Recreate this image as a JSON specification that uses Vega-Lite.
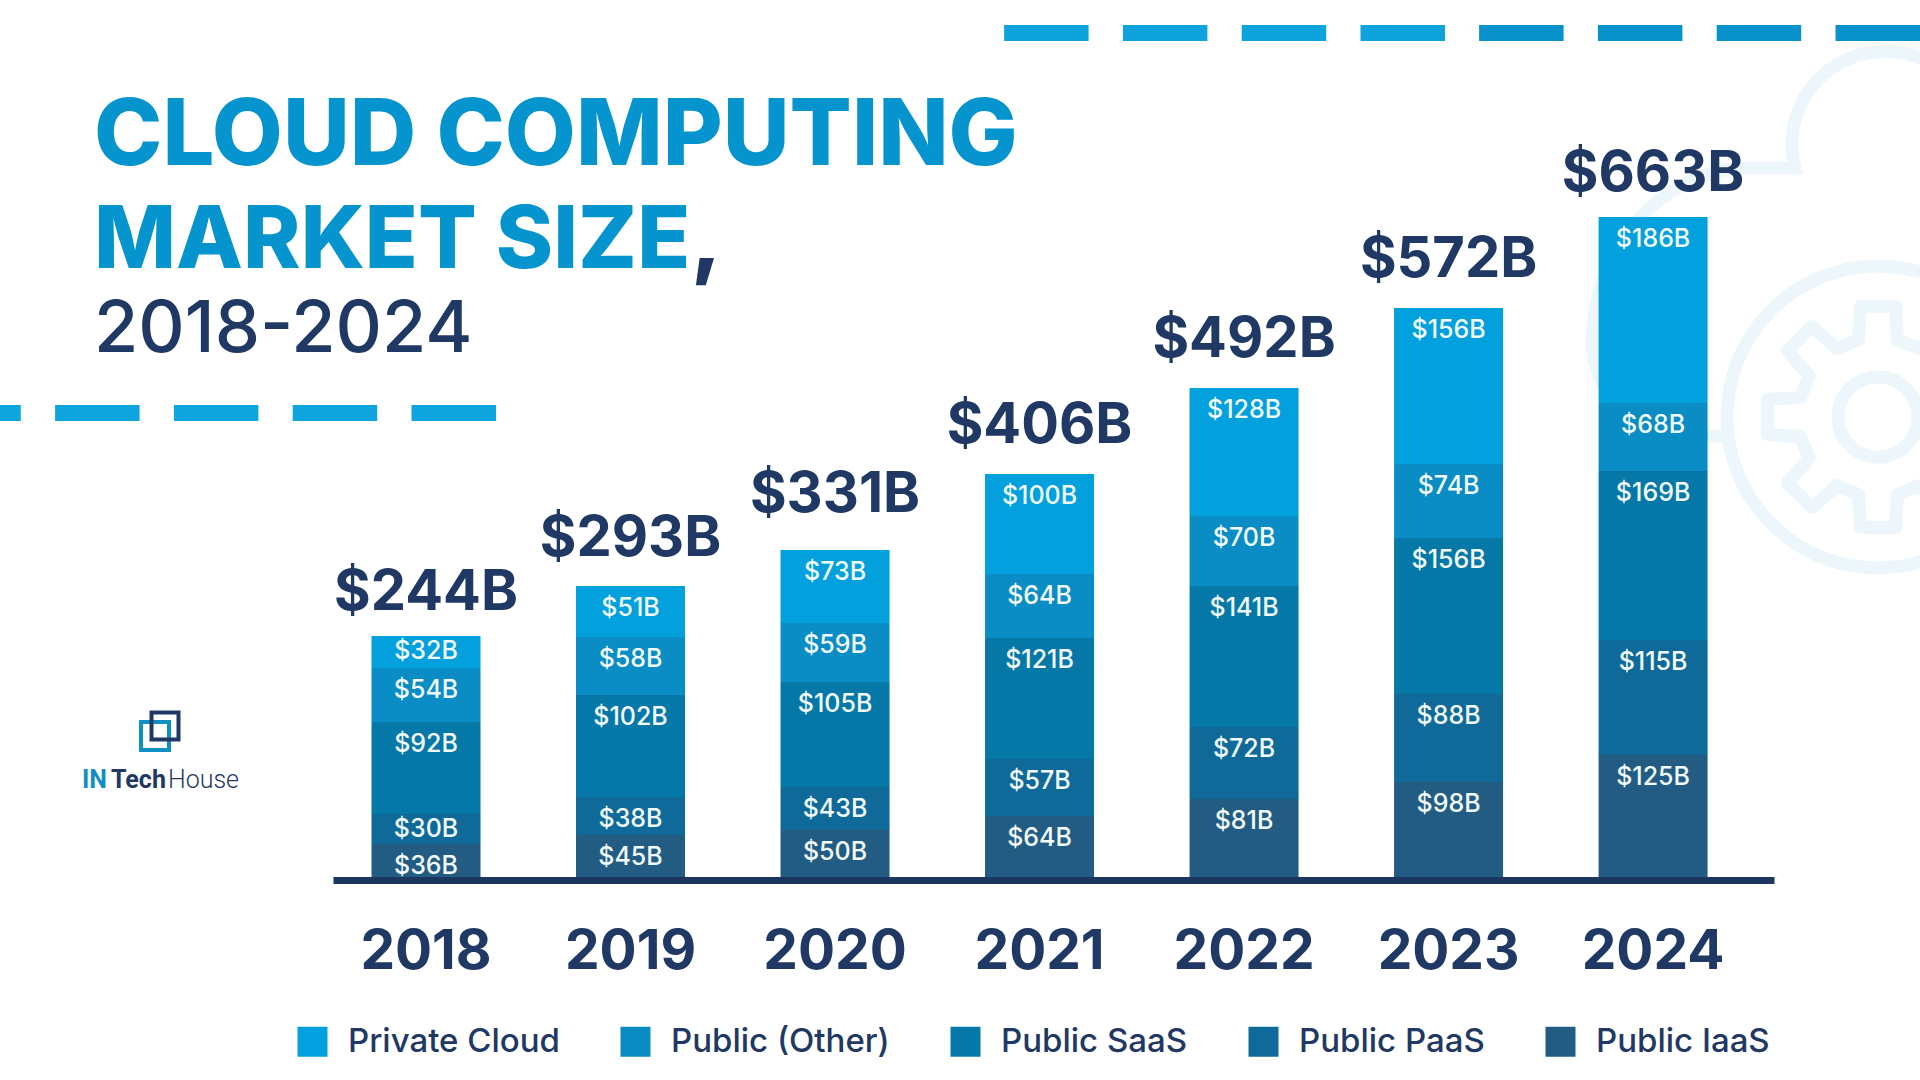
{
  "$schema": "https://vega.github.io/schema/vega-lite/v6.json",
  "background": "white",
  "autosize": {"type": "none"},
  "padding": {"left": 333, "top": 0, "right": 146, "bottom": 200},
  "width": 1441,
  "height": 880,
  "title": {
    "text": "CLOUD COMPUTING",
    "subtitle": "MARKET SIZE",
    "frame": "group",
    "anchor": "start",
    "align": "left",
    "dx": -239,
    "dy": 290,
    "font": "Inter",
    "fontSize": 92,
    "fontWeight": 800,
    "color": "#0594CE",
    "subtitleFont": "Inter",
    "subtitleFontSize": 87,
    "subtitleFontWeight": 800,
    "subtitleColor": "#0594CE",
    "subtitlePadding": 15
  },
  "datasets": {
    "segments": [
      {"year": "2018", "segment": "Private Cloud", "rank": 5, "value": 32, "label": "$32B"},
      {"year": "2018", "segment": "Public (Other)", "rank": 4, "value": 54, "label": "$54B"},
      {"year": "2018", "segment": "Public SaaS", "rank": 3, "value": 92, "label": "$92B"},
      {"year": "2018", "segment": "Public PaaS", "rank": 2, "value": 30, "label": "$30B"},
      {"year": "2018", "segment": "Public IaaS", "rank": 1, "value": 36, "label": "$36B"},
      {"year": "2019", "segment": "Private Cloud", "rank": 5, "value": 51, "label": "$51B"},
      {"year": "2019", "segment": "Public (Other)", "rank": 4, "value": 58, "label": "$58B"},
      {"year": "2019", "segment": "Public SaaS", "rank": 3, "value": 102, "label": "$102B"},
      {"year": "2019", "segment": "Public PaaS", "rank": 2, "value": 38, "label": "$38B"},
      {"year": "2019", "segment": "Public IaaS", "rank": 1, "value": 45, "label": "$45B"},
      {"year": "2020", "segment": "Private Cloud", "rank": 5, "value": 73, "label": "$73B"},
      {"year": "2020", "segment": "Public (Other)", "rank": 4, "value": 59, "label": "$59B"},
      {"year": "2020", "segment": "Public SaaS", "rank": 3, "value": 105, "label": "$105B"},
      {"year": "2020", "segment": "Public PaaS", "rank": 2, "value": 43, "label": "$43B"},
      {"year": "2020", "segment": "Public IaaS", "rank": 1, "value": 50, "label": "$50B"},
      {"year": "2021", "segment": "Private Cloud", "rank": 5, "value": 100, "label": "$100B"},
      {"year": "2021", "segment": "Public (Other)", "rank": 4, "value": 64, "label": "$64B"},
      {"year": "2021", "segment": "Public SaaS", "rank": 3, "value": 121, "label": "$121B"},
      {"year": "2021", "segment": "Public PaaS", "rank": 2, "value": 57, "label": "$57B"},
      {"year": "2021", "segment": "Public IaaS", "rank": 1, "value": 64, "label": "$64B"},
      {"year": "2022", "segment": "Private Cloud", "rank": 5, "value": 128, "label": "$128B"},
      {"year": "2022", "segment": "Public (Other)", "rank": 4, "value": 70, "label": "$70B"},
      {"year": "2022", "segment": "Public SaaS", "rank": 3, "value": 141, "label": "$141B"},
      {"year": "2022", "segment": "Public PaaS", "rank": 2, "value": 72, "label": "$72B"},
      {"year": "2022", "segment": "Public IaaS", "rank": 1, "value": 81, "label": "$81B"},
      {"year": "2023", "segment": "Private Cloud", "rank": 5, "value": 156, "label": "$156B"},
      {"year": "2023", "segment": "Public (Other)", "rank": 4, "value": 74, "label": "$74B"},
      {"year": "2023", "segment": "Public SaaS", "rank": 3, "value": 156, "label": "$156B"},
      {"year": "2023", "segment": "Public PaaS", "rank": 2, "value": 88, "label": "$88B"},
      {"year": "2023", "segment": "Public IaaS", "rank": 1, "value": 98, "label": "$98B"},
      {"year": "2024", "segment": "Private Cloud", "rank": 5, "value": 186, "label": "$186B"},
      {"year": "2024", "segment": "Public (Other)", "rank": 4, "value": 68, "label": "$68B"},
      {"year": "2024", "segment": "Public SaaS", "rank": 3, "value": 169, "label": "$169B"},
      {"year": "2024", "segment": "Public PaaS", "rank": 2, "value": 115, "label": "$115B"},
      {"year": "2024", "segment": "Public IaaS", "rank": 1, "value": 125, "label": "$125B"}
    ],
    "totals": [
      {"year": "2018", "total": 244, "label": "$244B"},
      {"year": "2019", "total": 293, "label": "$293B"},
      {"year": "2020", "total": 331, "label": "$331B"},
      {"year": "2021", "total": 406, "label": "$406B"},
      {"year": "2022", "total": 492, "label": "$492B"},
      {"year": "2023", "total": 572, "label": "$572B"},
      {"year": "2024", "total": 663, "label": "$663B"}
    ]
  },
  "layer": [
    {
      "data": {"values": [{}]},
      "mark": {"type": "point", "filled": false, "stroke": "#EDF7FB", "strokeWidth": 13, "shape": "circle", "size": 91204, "opacity": 1},
      "encoding": {"x": {"value": 1545}, "y": {"value": 417}}
    },
    {
      "data": {"values": [{}]},
      "mark": {"type": "point", "filled": false, "stroke": "#EDF7FB", "strokeWidth": 13, "shape": "circle", "size": 6400, "opacity": 1},
      "encoding": {"x": {"value": 1545}, "y": {"value": 417}}
    },
    {
      "data": {"values": [{}]},
      "mark": {"type": "point", "filled": false, "stroke": "#EDF7FB", "strokeWidth": 13, "strokeJoin": "round", "size": 160000, "opacity": 1,
        "shape": "M0.388 -0.097 L0.553 -0.088 L0.553 0.088 L0.388 0.097 L0.343 0.206 L0.453 0.329 L0.329 0.453 L0.206 0.343 L0.097 0.388 L0.088 0.553 L-0.088 0.553 L-0.097 0.388 L-0.206 0.343 L-0.329 0.453 L-0.453 0.329 L-0.343 0.206 L-0.388 0.097 L-0.553 0.088 L-0.553 -0.088 L-0.388 -0.097 L-0.343 -0.206 L-0.453 -0.329 L-0.329 -0.453 L-0.206 -0.343 L-0.097 -0.388 L-0.088 -0.553 L0.088 -0.553 L0.097 -0.388 L0.206 -0.343 L0.329 -0.453 L0.453 -0.329 L0.343 -0.206 Z"},
      "encoding": {"x": {"value": 1545}, "y": {"value": 417}}
    },
    {
      "data": {"values": [{}]},
      "mark": {"type": "point", "filled": false, "stroke": "#EDF7FB", "strokeWidth": 13, "strokeCap": "round", "size": 160000, "opacity": 1,
        "shape": "M0.26 -1.77 A0.465 0.465 0 0 0 -0.415 -1.245 L-0.64 -1.245 A0.79 0.88 0 0 0 -1.43 -0.365 A0.49 0.48 0 0 0 -0.94 0.095 L-0.78 0.095"},
      "encoding": {"x": {"value": 1545}, "y": {"value": 417}}
    },
    {
      "data": {"values": [{}]},
      "mark": {"type": "rule", "stroke": "#0892CC", "strokeWidth": 16, "strokeDash": [84.5, 34.3]},
      "encoding": {"x": {"value": 1587}, "x2": {"value": 1140}, "y": {"value": 33}}
    },
    {
      "data": {"values": [{}]},
      "mark": {"type": "rule", "stroke": "#0FA3DD", "strokeWidth": 16, "strokeDash": [84.5, 34.3]},
      "encoding": {"x": {"value": 1112}, "x2": {"value": 670}, "y": {"value": 33}}
    },
    {
      "data": {"values": [{}]},
      "mark": {"type": "rule", "stroke": "#0FA5DE", "strokeWidth": 16, "strokeDash": [84.5, 34.3]},
      "encoding": {"x": {"value": 163}, "x2": {"value": -333}, "y": {"value": 413}}
    },
    {
      "data": {"values": [{}]},
      "mark": {"type": "text", "text": ",", "font": "Inter", "fontSize": 87, "fontWeight": 800, "fill": "#1F3864", "align": "left", "baseline": "alphabetic"},
      "encoding": {"x": {"value": 358}, "y": {"value": 268}}
    },
    {
      "data": {"values": [{}]},
      "mark": {"type": "text", "text": "2018-2024", "font": "Inter", "fontSize": 72, "fontWeight": 500, "fill": "#1F3864", "align": "left", "baseline": "alphabetic"},
      "encoding": {"x": {"value": -239}, "y": {"value": 352}}
    },
    {
      "data": {"values": [{}]},
      "mark": {"type": "point", "filled": false, "stroke": "#0F8FC4", "strokeWidth": 4, "shape": "square", "size": 784, "opacity": 1},
      "encoding": {"x": {"value": -178}, "y": {"value": 736}}
    },
    {
      "data": {"values": [{}]},
      "mark": {"type": "point", "filled": false, "stroke": "#1F3864", "strokeWidth": 4, "shape": "square", "size": 729, "opacity": 1},
      "encoding": {"x": {"value": -168}, "y": {"value": 726}}
    },
    {
      "data": {"values": [{}]},
      "mark": {"type": "text", "text": "IN", "font": "Roboto", "fontSize": 25, "fontWeight": 700, "fill": "#0F8FC4", "align": "left", "baseline": "alphabetic"},
      "encoding": {"x": {"value": -251}, "y": {"value": 788}}
    },
    {
      "data": {"values": [{}]},
      "mark": {"type": "text", "text": "Tech", "font": "Roboto", "fontSize": 25, "fontWeight": 700, "fill": "#1F3864", "align": "left", "baseline": "alphabetic"},
      "encoding": {"x": {"value": -222}, "y": {"value": 788}}
    },
    {
      "data": {"values": [{}]},
      "mark": {"type": "text", "text": "House", "font": "Roboto", "fontSize": 25, "fontWeight": 300, "fill": "#1F3864", "align": "left", "baseline": "alphabetic"},
      "encoding": {"x": {"value": -165}, "y": {"value": 788}}
    },
    {
      "data": {"name": "segments"},
      "transform": [{"stack": "value", "groupby": ["year"], "sort": [{"field": "rank", "order": "ascending"}], "as": ["y0", "y1"]}],
      "layer": [
        {
          "mark": {"type": "bar"},
          "encoding": {
            "x": {"field": "year", "type": "nominal", "title": null,
              "scale": {"type": "band", "paddingInner": 0.467, "paddingOuter": 0.2565, "align": 0.367},
              "axis": {"labelAngle": 0, "labelFont": "Inter", "labelFontSize": 55, "labelFontWeight": 700, "labelColor": "#1F3864", "labelBaseline": "alphabetic", "labelPadding": 88, "ticks": false, "domainColor": "#1B365F", "domainWidth": 7, "zindex": 1, "grid": false}},
            "y": {"field": "y1", "type": "quantitative", "title": null, "scale": {"domain": [0, 880], "nice": false}, "axis": null},
            "y2": {"field": "y0"},
            "color": {"field": "segment", "type": "nominal", "title": null,
              "scale": {"domain": ["Private Cloud", "Public (Other)", "Public SaaS", "Public PaaS", "Public IaaS"], "range": ["#02A0DD", "#0A8CC4", "#0678A8", "#0F6A99", "#235C83"]},
              "legend": {"orient": "none", "legendX": -37, "legendY": 1025, "direction": "horizontal", "columns": 5, "columnPadding": 59, "symbolType": "square", "symbolSize": 900, "symbolStrokeWidth": 0, "labelFont": "Inter", "labelFontSize": 33, "labelFontWeight": 500, "labelColor": "#1F3864", "labelOffset": 19, "labelLimit": 400}}
          }
        },
        {
          "transform": [{"filter": "datum.value >= 33"}],
          "mark": {"type": "text", "font": "Inter", "fontSize": 25, "fontWeight": 500, "fill": "#F2FBFE", "baseline": "middle", "dy": 22},
          "encoding": {
            "x": {"field": "year", "type": "nominal"},
            "y": {"field": "y1", "type": "quantitative"},
            "text": {"field": "label"}
          }
        },
        {
          "transform": [{"filter": "datum.value < 33"}],
          "mark": {"type": "text", "font": "Inter", "fontSize": 25, "fontWeight": 500, "fill": "#F2FBFE", "baseline": "middle", "dy": 15},
          "encoding": {
            "x": {"field": "year", "type": "nominal"},
            "y": {"field": "y1", "type": "quantitative"},
            "text": {"field": "label"}
          }
        }
      ]
    },
    {
      "data": {"name": "totals"},
      "transform": [{"filter": "datum.year == '2018' || datum.year == '2024'"}],
      "mark": {"type": "text", "font": "Inter", "fontSize": 56, "fontWeight": 700, "fill": "#1F3864", "baseline": "alphabetic", "dy": -26},
      "encoding": {
        "x": {"field": "year", "type": "nominal"},
        "y": {"field": "total", "type": "quantitative"},
        "text": {"field": "label"}
      }
    },
    {
      "data": {"name": "totals"},
      "transform": [{"filter": "datum.year == '2019' || datum.year == '2021' || datum.year == '2022' || datum.year == '2023'"}],
      "mark": {"type": "text", "font": "Inter", "fontSize": 56, "fontWeight": 700, "fill": "#1F3864", "baseline": "alphabetic", "dy": -31},
      "encoding": {
        "x": {"field": "year", "type": "nominal"},
        "y": {"field": "total", "type": "quantitative"},
        "text": {"field": "label"}
      }
    },
    {
      "data": {"name": "totals"},
      "transform": [{"filter": "datum.year == '2020'"}],
      "mark": {"type": "text", "font": "Inter", "fontSize": 56, "fontWeight": 700, "fill": "#1F3864", "baseline": "alphabetic", "dy": -37},
      "encoding": {
        "x": {"field": "year", "type": "nominal"},
        "y": {"field": "total", "type": "quantitative"},
        "text": {"field": "label"}
      }
    }
  ],
  "config": {"view": {"stroke": null}}
}
